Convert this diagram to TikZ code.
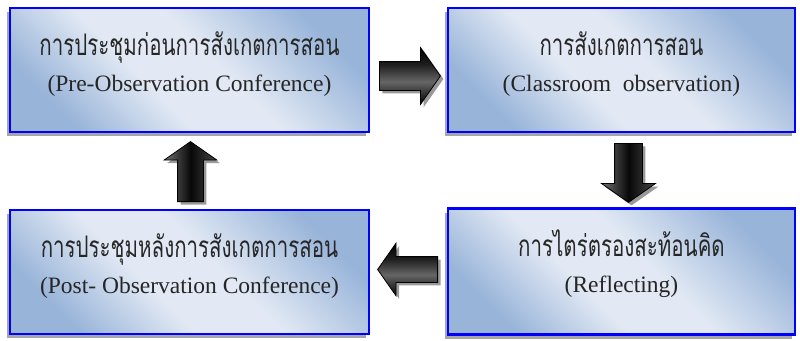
\documentclass[tikz,border=0pt]{standalone}
\usepackage{fontspec}
\setmainfont{Liberation Serif}
\newfontfamily\thaifont[Script=Thai]{Loma}
\usetikzlibrary{shapes.arrows,shadows,calc}
\definecolor{bdk}{RGB}{152,180,217}
\definecolor{blt}{RGB}{226,233,244}
\definecolor{bblue}{RGB}{0,0,255}
\pgfdeclarehorizontalshading{boxsh}{100bp}{color(0bp)=(bdk); color(25bp)=(bdk); color(42bp)=(blt); color(55bp)=(blt); color(75bp)=(bdk); color(100bp)=(bdk)}
\pgfdeclareverticalshading{arrv}{100bp}{color(0bp)=(black); color(25bp)=(black); color(45bp)=(black!60); color(60bp)=(black!88); color(75bp)=(black); color(100bp)=(black)}
\pgfdeclarehorizontalshading{arrh}{100bp}{color(0bp)=(black!55); color(25bp)=(black!55); color(50bp)=(black!97); color(75bp)=(black!72); color(100bp)=(black!72)}
\newcommand{\thaiscaled}[1]{\scalebox{1.0}[1.45]{#1}}
\tikzset{
  blockarrow/.style={single arrow, draw=black, line width=0.8pt, inner xsep=0pt,
    minimum width=0pt, single arrow tip angle=110,
    drop shadow={shadow xshift=3pt, shadow yshift=-3pt, fill=black!40, opacity=1}},
  box/.style={rectangle, draw=bblue, line width=2.6pt, shading=boxsh, shading angle=45,
    drop shadow={shadow xshift=-3pt, shadow yshift=-4pt, fill=black!35, opacity=1}},
  thtxt/.style={font=\thaifont\fontsize{20.5}{24}\selectfont, text=black!85, anchor=base, inner sep=0pt},
  entxt/.style={font=\fontsize{23.5}{28}\selectfont, text=black!85, anchor=base, inner sep=0pt}
}
\begin{document}
\begin{tikzpicture}[x=1pt,y=-1pt]
\fill[white] (0,0) rectangle (800,340);
\useasboundingbox (0,0) rectangle (800,340);
% boxes
\node[box, minimum width=359pt, minimum height=124pt] (pre) at (189.5,70) {};
\node[box, minimum width=347pt, minimum height=124pt] (obs) at (621.5,70) {};
\node[box, minimum width=359pt, minimum height=124pt] (post) at (189.5,272) {};
\node[box, minimum width=347pt, minimum height=126pt] (refl) at (621.5,271.5) {};
% texts
\node[thtxt] (preth) at ($(pre.center)+(0,-15)$) {\thaiscaled{การประชุมก่อนการสังเกตการสอน}};
\node[entxt] (preen) at ($(pre.center)+(0,21)$) {(Pre-Observation Conference)};
\node[thtxt] (obsth) at ($(obs.center)+(0,-15)$) {\thaiscaled{การสังเกตการสอน}};
\node[entxt] (obsen) at ($(obs.center)+(0,21)$) {(Classroom\ \ observation)};
\node[thtxt] (postth) at ($(post.center)+(0,-15)$) {\thaiscaled{การประชุมหลังการสังเกตการสอน}};
\node[entxt] (posten) at ($(post.center)+(0,21)$) {(Post- Observation Conference)};
\node[thtxt] (reflth) at ($(refl.center)+(0,-15)$) {\thaiscaled{การไตร่ตรองสะท้อนคิด}};
\node[entxt] (reflen) at ($(refl.center)+(0,21)$) {(Reflecting)};
% arrows
\node[blockarrow, shading=arrv, inner ysep=14pt, single arrow head extend=14pt,
  minimum height=61pt, anchor=tail] (a1) at (379,76) {};
\node[blockarrow, shading=arrh, rotate=-90, inner ysep=13.5pt, single arrow head extend=13pt,
  minimum height=59pt, anchor=tail] (a2) at (628.5,143) {};
\node[blockarrow, shading=arrv, rotate=180, inner ysep=12.5pt, single arrow head extend=13.5pt,
  minimum height=60pt, anchor=tail] (a3) at (438,269.5) {};
\node[blockarrow, shading=arrh, rotate=90, inner ysep=12.5pt, single arrow head extend=13.5pt,
  minimum height=60pt, anchor=tail] (a4) at (190.5,202) {};
\end{tikzpicture}
\end{document}
